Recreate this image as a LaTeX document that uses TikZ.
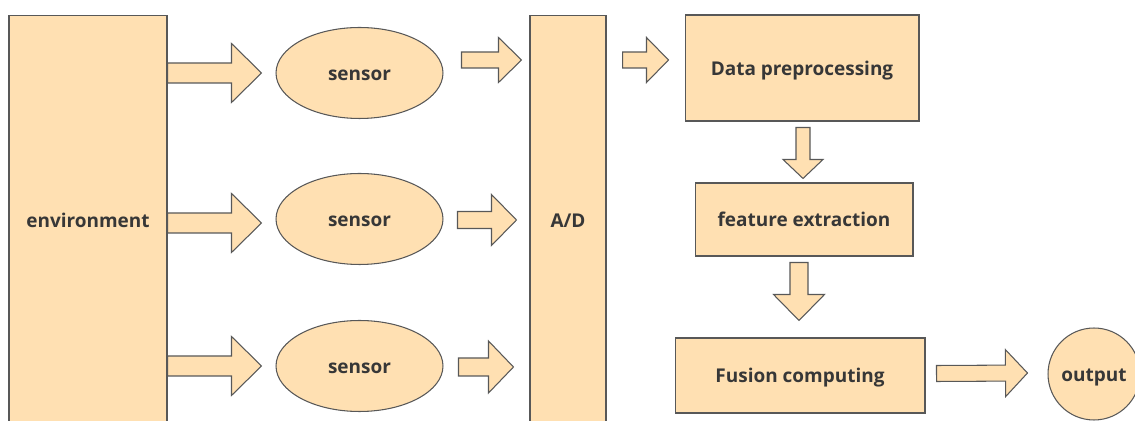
\documentclass[tikz,border=0pt]{standalone}
\usepackage{fontspec}
\setmainfont{Open Sans}
\usepackage{tikz}
\usetikzlibrary{shapes,calc}
\definecolor{peach}{RGB}{255,224,178}
\definecolor{edgegray}{RGB}{88,88,88}
\definecolor{inkgray}{RGB}{55,55,55}

% fat arrow: shaft half width, head half width, head length, tail, tip
\newcommand{\fatarrow}[5]{%
  \path #4 coordinate (tail) #5 coordinate (tip);
  \coordinate (neck) at ($(tip)!#3!(tail)$);
  \draw[blockarrow] ($(tail)!#1!90:(tip)$) -- ($(neck)!#1!-90:(tail)$) -- ($(neck)!#2!-90:(tail)$)
    -- (tip) -- ($(neck)!#2!90:(tail)$) -- ($(neck)!#1!90:(tail)$) -- ($(tail)!#1!-90:(tip)$) -- cycle;}

\begin{document}
\begin{tikzpicture}[x=0.02cm, y=-0.02cm,
    block/.style={draw=edgegray, fill=peach, line width=0.6pt, text=inkgray, inner sep=0pt,
      text height=0.8em, text depth=0pt, font=\fontsize{10.8}{12}\selectfont\bfseries},
    blockarrow/.style={draw=edgegray, fill=peach, line width=0.6pt, line join=miter}]
    \clip (0,0) rectangle (1135,421);

    \node[block, minimum width=3.16cm, minimum height=8.2cm] (env) at (88,220) {environment};
    \node[block, ellipse, minimum width=3.34cm, minimum height=1.82cm] (s1) at (359.5,73) {sensor};
    \node[block, ellipse, minimum width=3.34cm, minimum height=1.82cm] (s2) at (359.5,219) {sensor};
    \node[block, ellipse, minimum width=3.34cm, minimum height=1.82cm] (s3) at (359.5,366) {sensor};
    \node[block, minimum width=1.52cm, minimum height=8.2cm] (ad) at (568,220) {A/D};
    \node[block, minimum width=4.68cm, minimum height=2.12cm] (data) at (802,68) {Data preprocessing};
    \node[block, minimum width=4.36cm, minimum height=1.46cm] (feat) at (804,219.5) {feature extraction};
    \node[block, minimum width=5cm, minimum height=1.5cm] (fusion) at (800,375.5) {Fusion computing};
    \node[block, circle, minimum size=1.84cm] (out) at (1094,374) {output};

    % environment to sensors
    \fatarrow{2mm}{5.9mm}{6mm}{(env.east |- s1)}{($(s1.west)+(-14,0)$)}
    \fatarrow{2mm}{5.9mm}{6mm}{($(env.east |- s2)+(0,4)$)}{($(s2.west)+(-14,4)$)}
    \fatarrow{2mm}{5.9mm}{6mm}{(env.east |- s3)}{($(s3.west)+(-14,0)$)}
    % sensors to A/D
    \fatarrow{1.6mm}{4.5mm}{4.6mm}{($(s1.east)+(18,-13)$)}{($(ad.west |- s1)+(-8,-13)$)}
    \fatarrow{1.7mm}{5.1mm}{5mm}{($(s2.east)+(14,1)$)}{($(ad.west |- s2)+(-13,1)$)}
    \fatarrow{1.8mm}{5.2mm}{5mm}{($(s3.east)+(15,1)$)}{($(ad.west |- s3)+(-16,1)$)}
    % processing chain
    \fatarrow{1.6mm}{4.5mm}{4.4mm}{($(ad.east |- data)+(16,-8)$)}{($(data.west)+(-16,-8)$)}
    \fatarrow{1.4mm}{4mm}{3.8mm}{($(data.south)+(1,6)$)}{($(feat.north)+(-1,-4)$)}
    \fatarrow{1.8mm}{5.1mm}{5.2mm}{($(feat.south)+(-5,6)$)}{($(fusion.north)+(-1,-17)$)}
    \fatarrow{1.6mm}{4.7mm}{4.4mm}{($(fusion.east)+(11,-2)$)}{($(out.west)+(-20,-1)$)}
\end{tikzpicture}
\end{document}
